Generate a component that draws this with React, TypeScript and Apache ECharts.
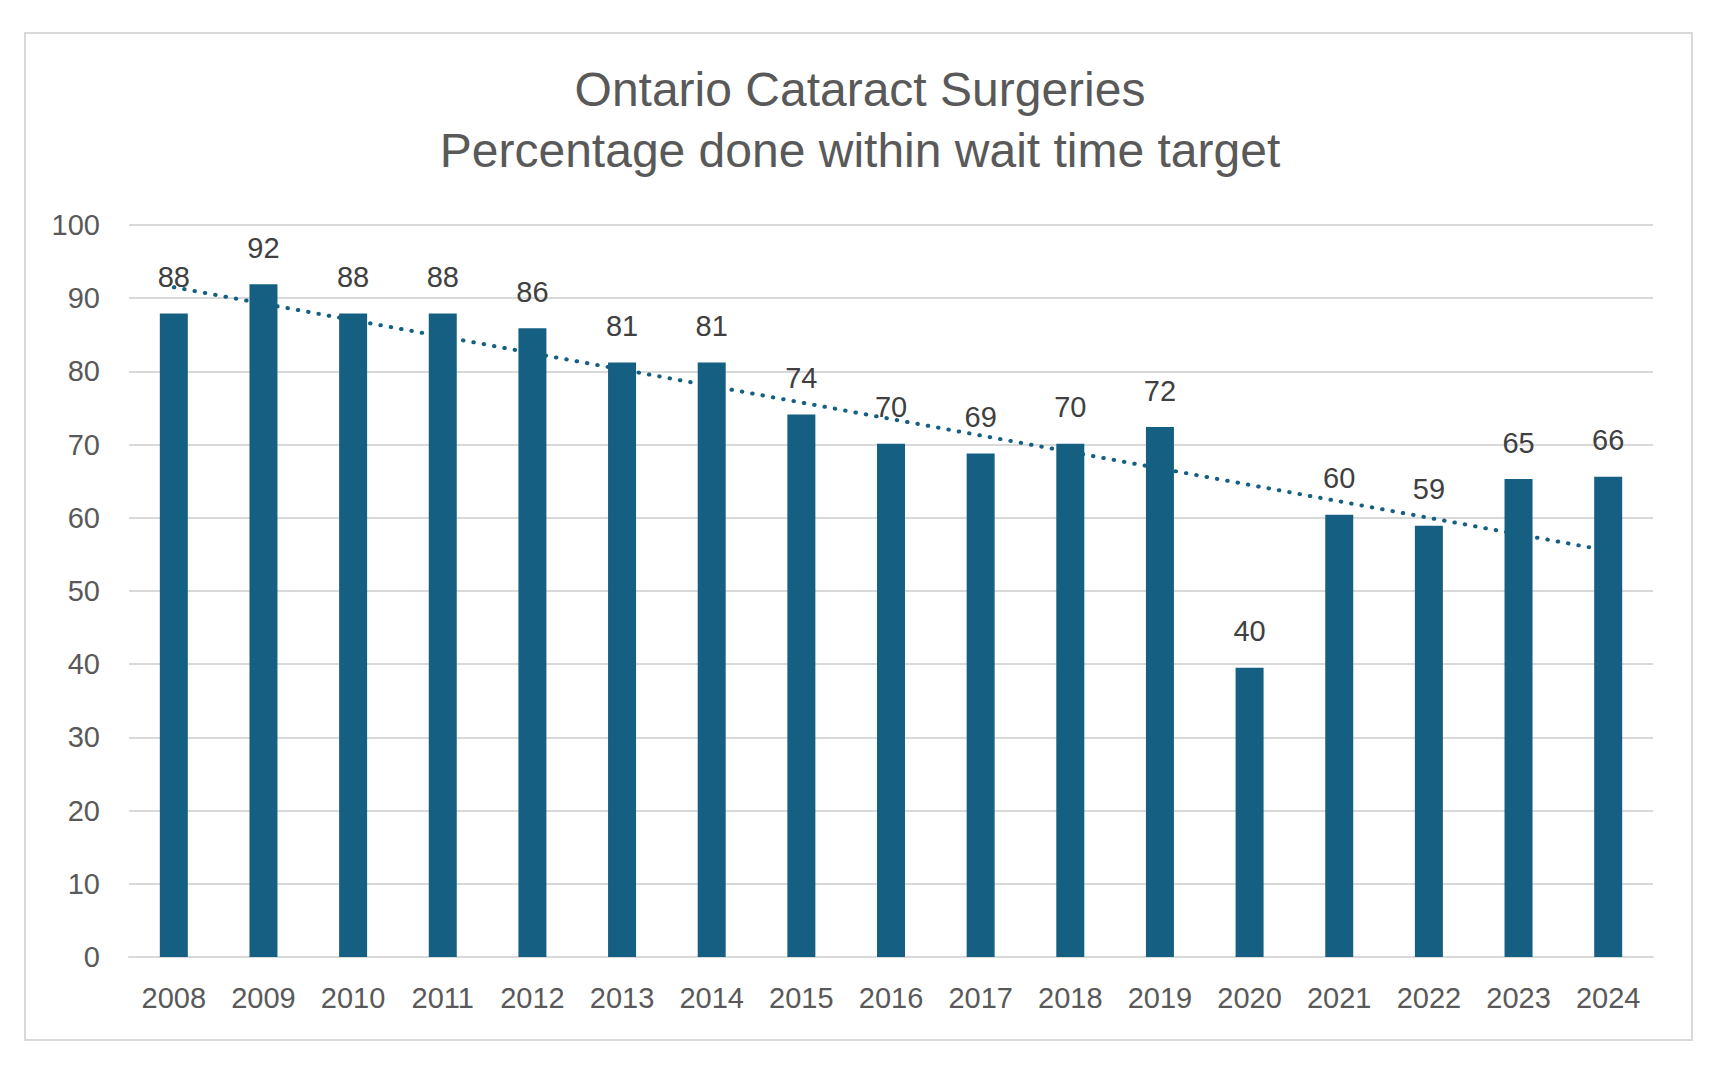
import React, { useEffect, useRef } from "react";
import * as echarts from "echarts";

const years = ["2008", "2009", "2010", "2011", "2012", "2013", "2014", "2015", "2016", "2017", "2018", "2019", "2020", "2021", "2022", "2023", "2024"];
const percentWithinTarget = [87.9, 91.9, 87.9, 87.9, 85.9, 81.2, 81.2, 74.1, 70.1, 68.8, 70.1, 72.4, 39.5, 60.4, 58.9, 65.3, 65.6];
const trendEndpoints = [
  ["2008", 91.5],
  ["2024", 55.5],
];
const yTicks = { min: 0, max: 100, interval: 10 };
const titleLines = ["Ontario Cataract Surgeries", "Percentage done within wait time target"];

const FONT = "'Liberation Sans', Arial, sans-serif";
const BAR = "#156082";

export default function App() {
  const ref = useRef<HTMLDivElement>(null);
  useEffect(() => {
    if (!ref.current) return;
    const chart = echarts.init(ref.current, null, { renderer: "svg" });
    chart.setOption({
      animation: false,
      backgroundColor: "#ffffff",
      title: {
        text: titleLines.join("\n"),
        left: "center",
        top: 54,
        textStyle: {
          fontFamily: FONT,
          fontSize: 48,
          fontWeight: "normal",
          color: "#595959",
          lineHeight: 61,
        },
      },
      graphic: [
        {
          type: "rect",
          shape: { x: 25, y: 33, width: 1667, height: 1007 },
          style: { fill: "none", stroke: "#d9d9d9", lineWidth: 2 },
          silent: true,
        },
      ],
      grid: { left: 129, right: 67, top: 225, bottom: 114, containLabel: false },
      xAxis: {
        type: "category",
        data: years,
        axisLine: { show: true, lineStyle: { color: "#d9d9d9", width: 2 } },
        axisTick: { show: false },
        axisLabel: { fontFamily: FONT, fontSize: 29, color: "#595959", margin: 26 },
      },
      yAxis: {
        type: "value",
        min: yTicks.min,
        max: yTicks.max,
        interval: yTicks.interval,
        axisLine: { show: false },
        axisTick: { show: false },
        splitLine: { lineStyle: { color: "#d9d9d9", width: 2 } },
        axisLabel: { fontFamily: FONT, fontSize: 29, color: "#595959", margin: 29 },
      },
      series: [
        {
          type: "bar",
          data: percentWithinTarget,
          barWidth: 28,
          itemStyle: { color: BAR },
          label: {
            show: true,
            position: "top",
            distance: 22,
            fontFamily: FONT,
            fontSize: 29,
            color: "#404040",
            formatter: (p: any) => String(Math.round(p.value)),
          },
          z: 2,
        },
        {
          type: "line",
          data: trendEndpoints,
          symbol: "none",
          silent: true,
          lineStyle: { color: BAR, width: 4, type: [0.5, 10], cap: "round" },
          z: 3,
        },
      ],
    });
    return () => chart.dispose();
  }, []);
  return (
    <div
      ref={ref}
      style={{ position: "fixed", left: 0, top: 0, width: 1720, height: 1071, background: "#fff" }}
    />
  );
}
